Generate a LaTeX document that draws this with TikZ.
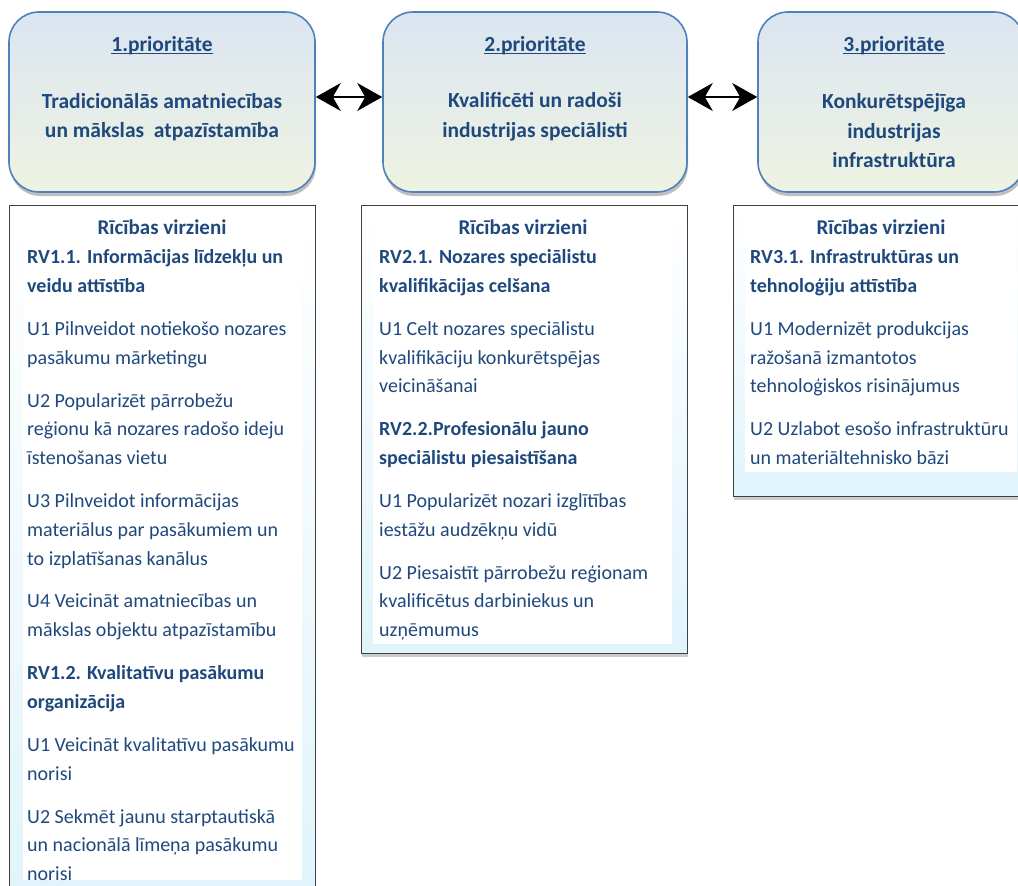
\documentclass[tikz,border=0pt]{standalone}
\usepackage{fontspec}
\setmainfont{Carlito}
\usetikzlibrary{arrows.meta,shadows}
\definecolor{txtblue}{HTML}{1F497D}
\definecolor{frameblue}{HTML}{4F81BD}
\definecolor{prioTop}{HTML}{DBE5F1}
\definecolor{prioBot}{HTML}{EEF3E2}
\definecolor{paleblue}{HTML}{E0F4FC}
\newcommand\ulword[1]{\setbox0\hbox{#1}\rlap{\rule[-2.6pt]{\wd0}{1.2pt}}\box0}

\begin{document}
\begin{tikzpicture}[x=1pt, y=-1pt,
    prio/.style={draw=frameblue, line width=1.6pt, rounded corners=30pt,
      top color=prioTop, bottom color=prioBot,
      drop shadow={shadow xshift=1pt, shadow yshift=-4pt, fill=black!50}},
    prionr/.style={text=txtblue, font=\fontsize{21.5}{29.5}\selectfont\bfseries},
    priotxt/.style={prionr, align=center},
    rvbox/.style={draw=black!75, line width=0.9pt, anchor=north west,
      top color=white, bottom color=paleblue,
      drop shadow={shadow xshift=1pt, shadow yshift=-4pt, fill=black!40}},
    rvhead/.style={text=txtblue, font=\fontsize{21}{28.7}\selectfont\bfseries},
    rvtext/.style={text=txtblue, font=\fontsize{20}{28.7}\selectfont,
      align=left, anchor=north west, inner sep=0pt},
    link/.style={{Stealth[length=25pt, width=28pt, inset=8pt]}-{Stealth[length=25pt, width=28pt, inset=8pt]}, line width=1.6pt}]
  \useasboundingbox (0,0) rectangle (1018,886);

  % priorities
  \node [prio, minimum width=306pt, minimum height=180pt] (p1) at (162,102) {};
  \node [prio, minimum width=304pt, minimum height=180pt] (p2) at (535,102) {};
  \node [prio, minimum width=266pt, minimum height=180pt] (p3) at (891,102) {};
  \node [prionr] (n1) at (162,45.5) {\ulword{1.prioritāte}};
  \node [prionr] (n2) at (535,45.5) {\ulword{2.prioritāte}};
  \node [prionr] (n3) at (894,45.5) {\ulword{3.prioritāte}};
  \node [priotxt] (d1) at (162,117) {Tradicionālās amatniecības\\un mākslas\ \ atpazīstamība};
  \node [priotxt] (d2) at (535,117) {Kvalificēti un radoši\\industrijas speciālisti};
  \node [priotxt] (d3) at (894,131) {Konkurētspējīga\\industrijas\\infrastruktūra};
  \draw [link] ([yshift=5pt]p1.east) -- ([yshift=5pt]p2.west);
  \draw [link] ([yshift=5pt]p2.east) -- ([yshift=5pt]p3.west);

  % action lines
  \node [rvbox, minimum width=306pt, minimum height=700pt] (r1) at (9,205) {};
  \node [rvbox, minimum width=326pt, minimum height=448pt] (r2) at (361,205) {};
  \node [rvbox, minimum width=296pt, minimum height=291pt] (r3) at (733,205) {};
  \fill [white] (23,213) rectangle (302,880);
  \fill [white] (373,213) rectangle (672,644);
  \fill [white] (745,213) rectangle (1017,472);
  \node [rvhead] (h1) at (162,227.5) {Rīcības virzieni};
  \node [rvhead] (h2) at (523,227.5) {Rīcības virzieni};
  \node [rvhead] (h3) at (881,227.5) {Rīcības virzieni};

  \node [rvtext] (b1) at (27,243.5) {\strut\textbf{RV1.1. Informācijas līdzekļu un}\\
    \textbf{veidu attīstība}\\[14.3pt]
    U1 Pilnveidot notiekošo nozares\\
    pasākumu mārketingu\\[14.3pt]
    U2 Popularizēt pārrobežu\\
    reģionu kā nozares radošo ideju\\
    īstenošanas vietu\\[14.3pt]
    U3 Pilnveidot informācijas\\
    materiālus par pasākumiem un\\
    to izplatīšanas kanālus\\[14.3pt]
    U4 Veicināt amatniecības un\\
    mākslas objektu atpazīstamību\\[14.3pt]
    \textbf{RV1.2. Kvalitatīvu pasākumu}\\
    \textbf{organizācija}\\[14.3pt]
    U1 Veicināt kvalitatīvu pasākumu\\
    norisi\\[14.3pt]
    U2 Sekmēt jaunu starptautiskā\\
    un nacionālā līmeņa pasākumu\\
    norisi};

  \node [rvtext] (b2) at (379,243.5) {\strut\textbf{RV2.1. Nozares speciālistu}\\
    \textbf{kvalifikācijas celšana}\\[14.3pt]
    U1 Celt nozares speciālistu\\
    kvalifikāciju konkurētspējas\\
    veicināšanai\\[14.3pt]
    \textbf{RV2.2.Profesionālu jauno}\\
    \textbf{speciālistu piesaistīšana}\\[14.3pt]
    U1 Popularizēt nozari izglītības\\
    iestāžu audzēkņu vidū\\[14.3pt]
    U2 Piesaistīt pārrobežu reģionam\\
    kvalificētus darbiniekus un\\
    uzņēmumus};

  \node [rvtext] (b3) at (750,243.5) {\strut\textbf{RV3.1. Infrastruktūras un}\\
    \textbf{tehnoloģiju attīstība}\\[14.3pt]
    U1 Modernizēt produkcijas\\
    ražošanā izmantotos\\
    tehnoloģiskos risinājumus\\[14.3pt]
    U2 Uzlabot esošo infrastruktūru\\
    un materiāltehnisko bāzi};
\end{tikzpicture}
\end{document}
